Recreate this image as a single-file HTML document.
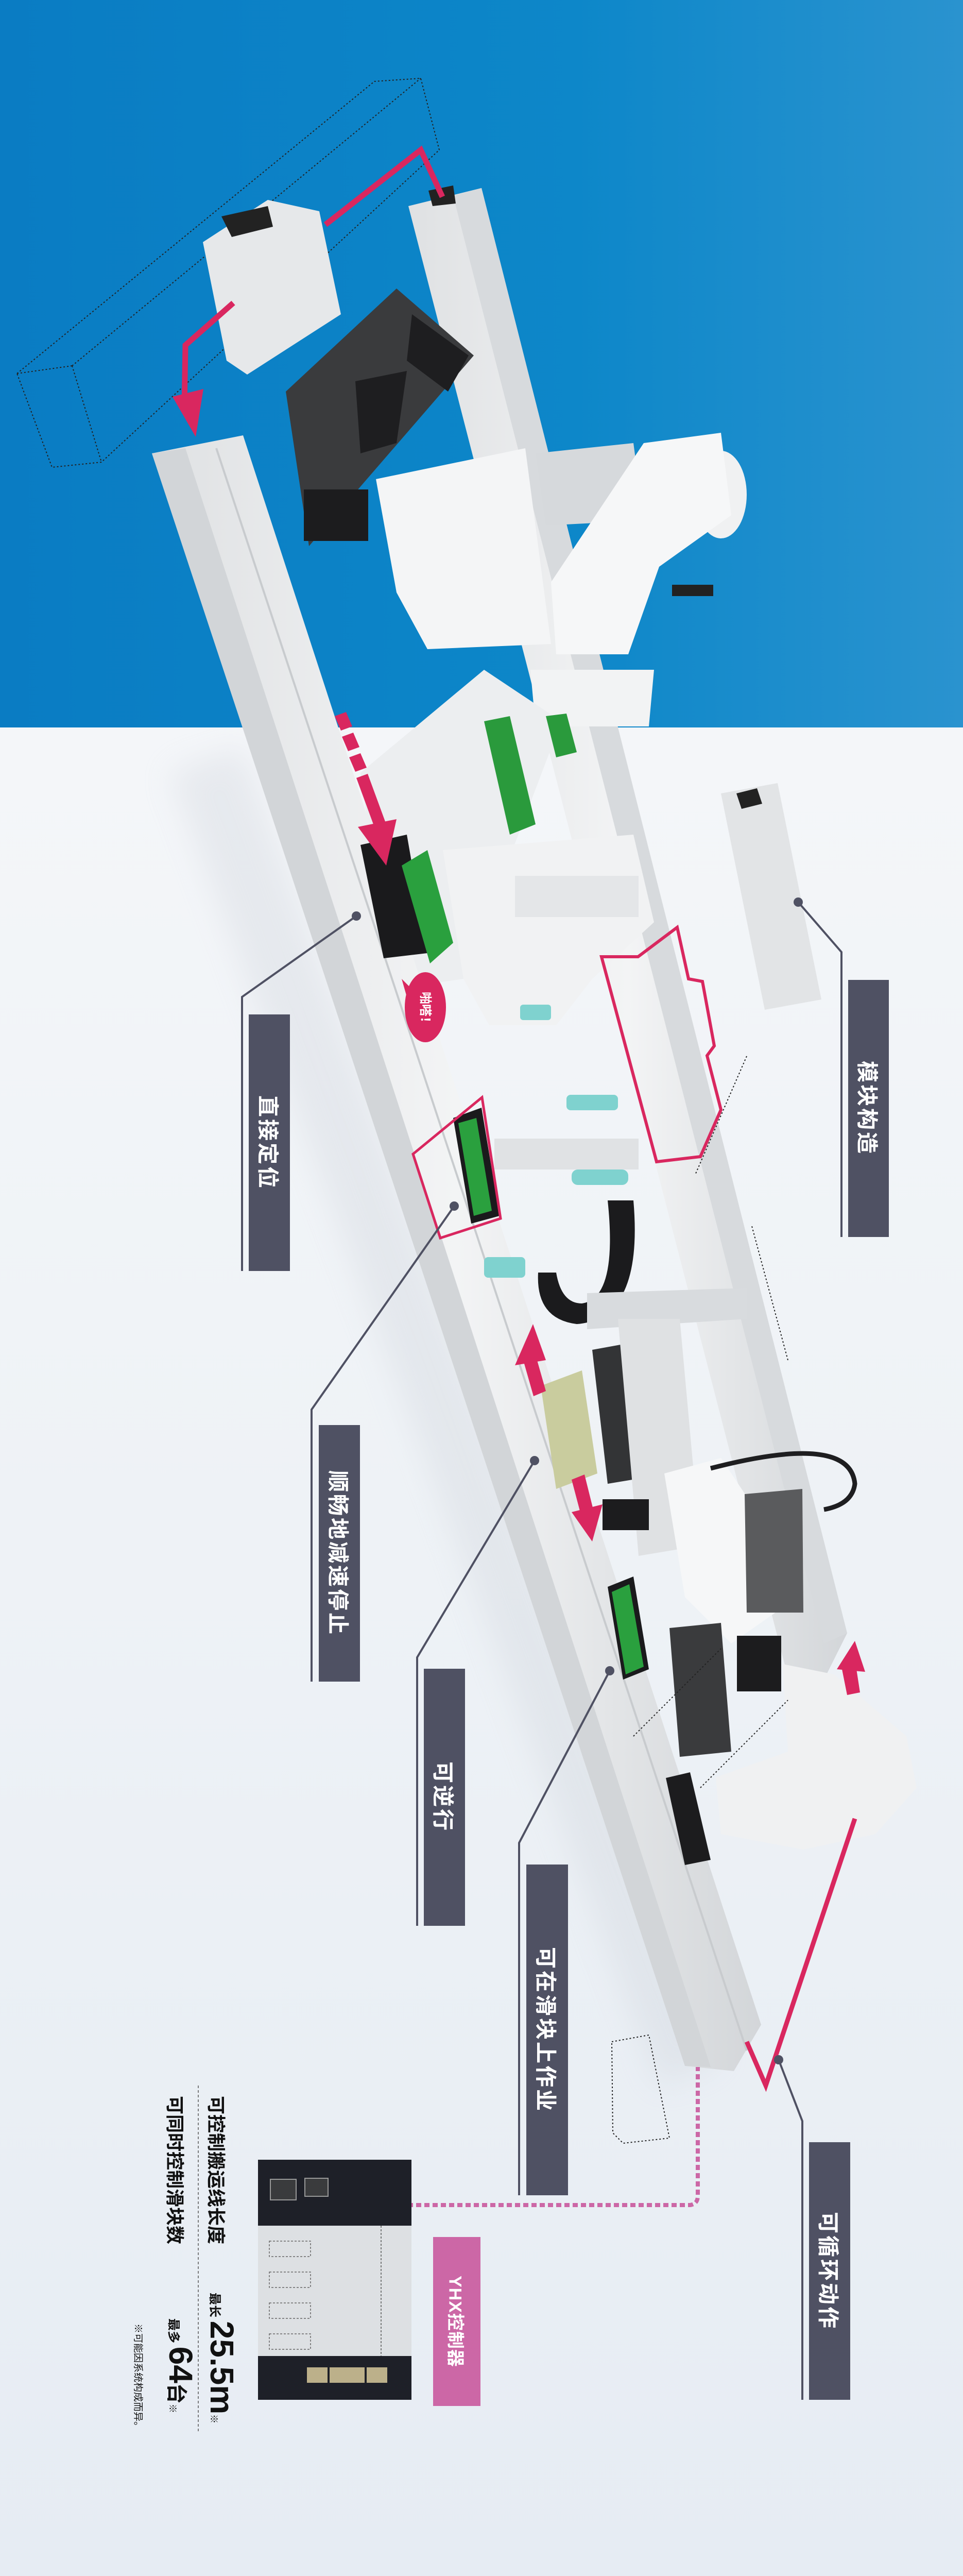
<!DOCTYPE html>
<html style="overflow:hidden;width:1870px;height:5032px"><head><meta charset="utf-8">
<style>
html,body{margin:0;padding:0}
body{width:1870px;height:5032px;position:relative;overflow:hidden;font-family:"Liberation Sans","Noto Sans CJK SC",sans-serif;background:linear-gradient(180deg,#f4f6f9 1412px,#eef2f6 3000px,#e6ecf3 5032px)}
.blue{position:absolute;left:0;top:0;width:1870px;height:1412px;background:linear-gradient(90deg,#0a7cc3 0%,#0d87c9 60%,#2a93cf 100%)}
svg{position:absolute;left:0;top:0;display:block}
.lbl{position:absolute;background:#4f5163;color:#fff;font-weight:bold;font-size:42px;writing-mode:vertical-rl;text-orientation:sideways;display:flex;align-items:center;justify-content:center;letter-spacing:4px;font-family:"Liberation Sans","Noto Sans CJK SC",sans-serif;overflow:hidden}
.v{position:absolute;writing-mode:vertical-rl;text-orientation:sideways;color:#111;font-weight:bold;white-space:nowrap;font-family:"Liberation Sans","Noto Sans CJK SC",sans-serif}
</style></head><body>
<div class="blue"></div>
<svg width="1870" height="5032" viewBox="0 0 1870 5032">
<defs>
<linearGradient id="rail" x1="0" y1="0" x2="1" y2="0">
<stop offset="0" stop-color="#dfe1e3"/><stop offset="0.5" stop-color="#f3f4f5"/><stop offset="1" stop-color="#d3d6d9"/></linearGradient>
<filter id="blur"><feGaussianBlur stdDeviation="30"/></filter>
</defs>
<polygon points="330,1500 470,1450 1400,4000 1280,4050" fill="#c9ced6" opacity="0.3" filter="url(#blur)"/>
<polygon points="33,725 727,158 817,152 853,291 197,897 101,907" fill="none" stroke="#222" stroke-width="2" stroke-dasharray="3,4"/>
<line x1="140" y1="710" x2="197" y2="897" stroke="#222" stroke-width="2" stroke-dasharray="3,4"/>
<line x1="140" y1="710" x2="817" y2="152" stroke="#222" stroke-width="2" stroke-dasharray="3,4"/>
<line x1="33" y1="725" x2="140" y2="710" stroke="#222" stroke-width="2" stroke-dasharray="3,4"/>
<polygon points="793,400 935,365 1645,3170 1605,3250 1530,3255" fill="url(#rail)"/>
<polygon points="880,380 935,365 1645,3170 1600,3190" fill="#d7dadd"/>
<polygon points="555,760 770,560 920,690 600,1060" fill="#3a3b3d"/>
<polygon points="800,610 910,690 870,760 790,700" fill="#1e1e20"/>
<polygon points="690,740 790,720 770,860 700,880" fill="#1e1e20"/>
<rect x="590" y="950" width="125" height="100" fill="#1c1c1e"/>
<polygon points="394,470 520,388 620,410 662,610 480,727 440,700" fill="#e6e8ea"/>
<polygon points="430,420 520,400 530,440 450,460" fill="#222"/>
<polygon points="832,370 880,360 885,395 840,400" fill="#222"/>
<polygon points="730,930 1020,870 1070,1250 830,1260 770,1150" fill="#f4f5f6"/>
<polygon points="1040,880 1230,860 1250,1010 1060,1020" fill="#d6d9dc"/>
<ellipse cx="1400" cy="960" rx="50" ry="85" fill="#f0f1f2"/>
<polygon points="1250,860 1400,840 1420,1000 1280,1100 1220,1270 1080,1270 1070,1130" fill="#f6f7f8"/>
<polygon points="1030,1300 1270,1300 1260,1410 1040,1410" fill="#f2f3f4"/>
<rect x="1305" y="1135" width="80" height="22" fill="#222"/>
<polygon points="700,1500 940,1300 1090,1400 900,1900 760,1920" fill="#eceef0"/>
<polygon points="940,1400 990,1390 1040,1600 990,1620" fill="#2a9a3c"/>
<polygon points="1060,1390 1100,1385 1120,1460 1080,1470" fill="#2a9a3c"/>
<polygon points="1400,1540 1510,1520 1595,1940 1485,1960" fill="#e2e4e6"/>
<polygon points="1430,1540 1470,1530 1480,1560 1440,1570" fill="#222"/>
<polygon points="295,880 472,845 1478,3930 1425,4020 1330,4010" fill="url(#rail)"/>
<polygon points="295,880 360,870 1380,4012 1330,4010" fill="#d2d5d8"/>
<line x1="420" y1="870" x2="1450" y2="3980" stroke="#c8cbce" stroke-width="4"/>
<polygon points="860,1650 1230,1620 1270,1790 1150,1900 1080,1990 950,1990 900,1900" fill="#f1f2f3"/>
<polygon points="1000,1700 1240,1700 1240,1780 1000,1780" fill="#e4e6e8"/>
<polygon points="700,1640 790,1620 830,1850 745,1860" fill="#1a1a1c"/>
<polygon points="780,1680 830,1650 880,1830 835,1870" fill="#2aa03e"/>
<path d="M1170,2330 L1230,2330 Q1250,2560 1120,2570 Q1040,2560 1045,2470 L1080,2470 Q1090,2530 1130,2530 Q1200,2520 1180,2330 Z" fill="#1b1b1d"/>
<rect x="960" y="2210" width="280" height="60" fill="#e0e2e4"/>
<rect x="940" y="2440" width="80" height="40" rx="8" fill="#7fd2cf"/>
<rect x="1010" y="1950" width="60" height="30" rx="6" fill="#7fd2cf"/>
<rect x="1110" y="2270" width="110" height="30" rx="12" fill="#7fd2cf"/>
<rect x="1100" y="2125" width="100" height="30" rx="8" fill="#7fd2cf"/>
<polygon points="880,2170 935,2150 970,2360 915,2375" fill="#1a1a1c"/>
<polygon points="890,2180 925,2170 955,2350 920,2360" fill="#2aa03e"/>
<polygon points="802,2240 936,2130 972,2365 855,2403" fill="none" stroke="#d9275f" stroke-width="5"/>
<polygon points="1168,1857 1239,1857 1315,1800 1337,1900 1364,1905 1387,2030 1373,2049 1400,2154 1360,2245 1275,2255" fill="none" stroke="#d9275f" stroke-width="6"/>
<polygon points="1140,2510 1450,2500 1450,2560 1140,2580" fill="#d8dbde"/>
<polygon points="1150,2620 1260,2600 1300,2860 1180,2880" fill="#333436"/>
<polygon points="1200,2560 1320,2560 1360,3000 1240,3020" fill="#dfe1e3"/>
<polygon points="1050,2690 1130,2660 1160,2860 1080,2890" fill="#c9cc9e"/>
<polygon points="1290,2860 1400,2830 1480,2950 1520,3120 1420,3190 1330,3100" fill="#f6f7f8"/>
<path d="M1380,2850 Q1650,2780 1660,2880 Q1655,2920 1600,2930" fill="none" stroke="#1e1e20" stroke-width="9"/>
<rect x="1170" y="2910" width="90" height="60" fill="#1c1c1e"/>
<polygon points="1446,2900 1558,2890 1560,3130 1450,3130" fill="#5a5b5d"/>
<polygon points="1300,3160 1400,3150 1420,3400 1320,3410" fill="#3a3b3d"/>
<rect x="1431" y="3175" width="86" height="108" fill="#1c1c1e"/>
<polygon points="1180,3080 1230,3060 1260,3240 1210,3260" fill="#1a1a1c"/>
<polygon points="1188,3090 1222,3075 1250,3235 1215,3250" fill="#2aa03e"/>
<polygon points="1520,3230 1620,3250 1760,3370 1780,3470 1700,3560 1560,3590 1400,3560 1390,3450 1530,3400" fill="#f0f1f2"/>
<polygon points="1293,3451 1340,3440 1380,3610 1330,3620" fill="#1c1c1e"/>
<polygon points="1188,3963 1260,3950 1300,4150 1210,4160 1190,4140" fill="none" stroke="#222" stroke-width="2" stroke-dasharray="3,4"/>
<line x1="1230" y1="3370" x2="1400" y2="3200" stroke="#222" stroke-width="2" stroke-dasharray="3,4"/>
<line x1="1360" y1="3470" x2="1530" y2="3300" stroke="#222" stroke-width="2" stroke-dasharray="3,4"/>
<line x1="1530" y1="2640" x2="1460" y2="2380" stroke="#222" stroke-width="2" stroke-dasharray="3,4"/>
<line x1="1450" y1="2050" x2="1350" y2="2280" stroke="#222" stroke-width="2" stroke-dasharray="3,4"/>
<path d="M632,436 L817,291 L859,382" fill="none" stroke="#d9275f" stroke-width="11"/>
<path d="M453,588 L360,670 L358,790" fill="none" stroke="#d9275f" stroke-width="11"/>
<polygon points="335,770 395,755 380,848" fill="#d9275f"/>
<g fill="#d9275f">
<polygon points="650,1390 672,1382 684,1410 662,1418"/>
<polygon points="664,1430 686,1422 698,1450 676,1458"/>
<polygon points="678,1470 700,1462 712,1490 690,1498"/>
<polygon points="692,1510 714,1502 750,1600 728,1608"/>
<polygon points="695,1605 770,1590 750,1680"/>
<polygon points="1016,2640 1040,2630 1060,2700 1036,2710"/>
<polygon points="1000,2650 1035,2570 1060,2640"/>
<polygon points="1110,2872 1135,2862 1152,2930 1128,2940"/>
<polygon points="1110,2935 1170,2920 1150,2992"/>
<polygon points="1633,3230 1660,3220 1670,3285 1645,3290"/>
<polygon points="1625,3240 1660,3185 1680,3245"/>
</g>
<path d="M1450,3963 L1487,4048 L1660,3530" fill="none" stroke="#d9275f" stroke-width="9"/>
<ellipse cx="826" cy="1955" rx="40" ry="68" fill="#d9275f"/>
<polygon points="780,1900 800,1920 790,1935" fill="#d9275f"/>
<text x="0" y="0" transform="translate(818,1925) rotate(90)" fill="#fff" font-size="24" font-weight="bold" font-family="Liberation Sans, Noto Sans CJK SC, sans-serif">啪嗒！</text>
<g fill="none" stroke="#4f5163" stroke-width="4">
<polyline points="470,2467 470,1935 692,1778"/>
<polyline points="1634,2401 1634,1848 1550,1751"/>
<polyline points="605,3264 605,2736 882,2341"/>
<polyline points="810,3738 810,3217 1038,2835"/>
<polyline points="1008,4261 1008,3577 1184,3243"/>
<polyline points="1558,4658 1558,4117 1512,3998"/>
</g>
<g fill="#4f5163">
<circle cx="692" cy="1778" r="9"/><circle cx="1550" cy="1751" r="9"/><circle cx="882" cy="2341" r="9"/>
<circle cx="1038" cy="2835" r="9"/><circle cx="1184" cy="3243" r="9"/><circle cx="1512" cy="3998" r="9"/>
</g>
<path d="M680,4280 L1340,4280 Q1355,4278 1355,4262 L1355,4012" fill="none" stroke="#cc67a6" stroke-width="8" stroke-dasharray="10,6"/>
<rect x="501" y="4192" width="298" height="466" fill="#dde0e3"/>
<rect x="501" y="4192" width="298" height="128" fill="#1e2028"/>
<rect x="501" y="4573" width="298" height="85" fill="#1e2028"/>
<rect x="525" y="4230" width="50" height="40" fill="#3a3b3d" stroke="#999" stroke-width="2"/>
<rect x="592" y="4228" width="45" height="35" fill="#3a3b3d" stroke="#999" stroke-width="2"/>
<rect x="596" y="4595" width="40" height="30" fill="#bcb08a"/><rect x="640" y="4595" width="40" height="30" fill="#bcb08a"/>
<rect x="668" y="4595" width="40" height="30" fill="#bcb08a"/><rect x="712" y="4595" width="40" height="30" fill="#bcb08a"/>
<line x1="740" y1="4320" x2="740" y2="4573" stroke="#555" stroke-width="1.5" stroke-dasharray="4,3"/>
<g fill="none" stroke="#666" stroke-width="1.5" stroke-dasharray="4,3">
<rect x="523" y="4350" width="80" height="30"/><rect x="523" y="4410" width="80" height="30"/>
<rect x="523" y="4470" width="80" height="30"/><rect x="523" y="4530" width="80" height="30"/>
</g>
<line x1="385" y1="4048" x2="385" y2="4723" stroke="#555" stroke-width="1.5" stroke-dasharray="5,4"/>
</svg>
<div class="lbl" style="left:483px;top:1969px;width:80px;height:498px">直接定位</div>
<div class="lbl" style="left:1647px;top:1902px;width:79px;height:499px">模块构造</div>
<div class="lbl" style="left:619px;top:2766px;width:80px;height:498px">顺畅地减速停止</div>
<div class="lbl" style="left:823px;top:3239px;width:80px;height:499px">可逆行</div>
<div class="lbl" style="left:1022px;top:3619px;width:81px;height:642px">可在滑块上作业</div>
<div class="lbl" style="left:1571px;top:4158px;width:80px;height:500px">可循环动作</div>
<div class="lbl" style="left:841px;top:4342px;width:92px;height:328px;background:#cc67a6;font-size:34px;letter-spacing:1px">YHX控制器</div>
<div class="v" style="left:396px;top:4068px;font-size:36px">可控制搬运线长度</div>
<div class="v" style="left:316px;top:4068px;font-size:36px">可同时控制滑块数</div>
<div class="v" style="left:380px;top:4450px;font-size:24px;line-height:70px">最长 <span style="font-size:64px;font-family:'Liberation Sans',sans-serif">25.5m</span><span style="font-size:18px">※</span></div>
<div class="v" style="left:300px;top:4500px;font-size:24px;line-height:70px">最多 <span style="font-size:64px;font-family:'Liberation Sans',sans-serif">64</span><span style="font-size:40px">台</span><span style="font-size:18px">※</span></div>
<div class="v" style="left:256px;top:4510px;font-size:19px;font-weight:normal">※可能因系统构成而异。</div>
</body></html>
